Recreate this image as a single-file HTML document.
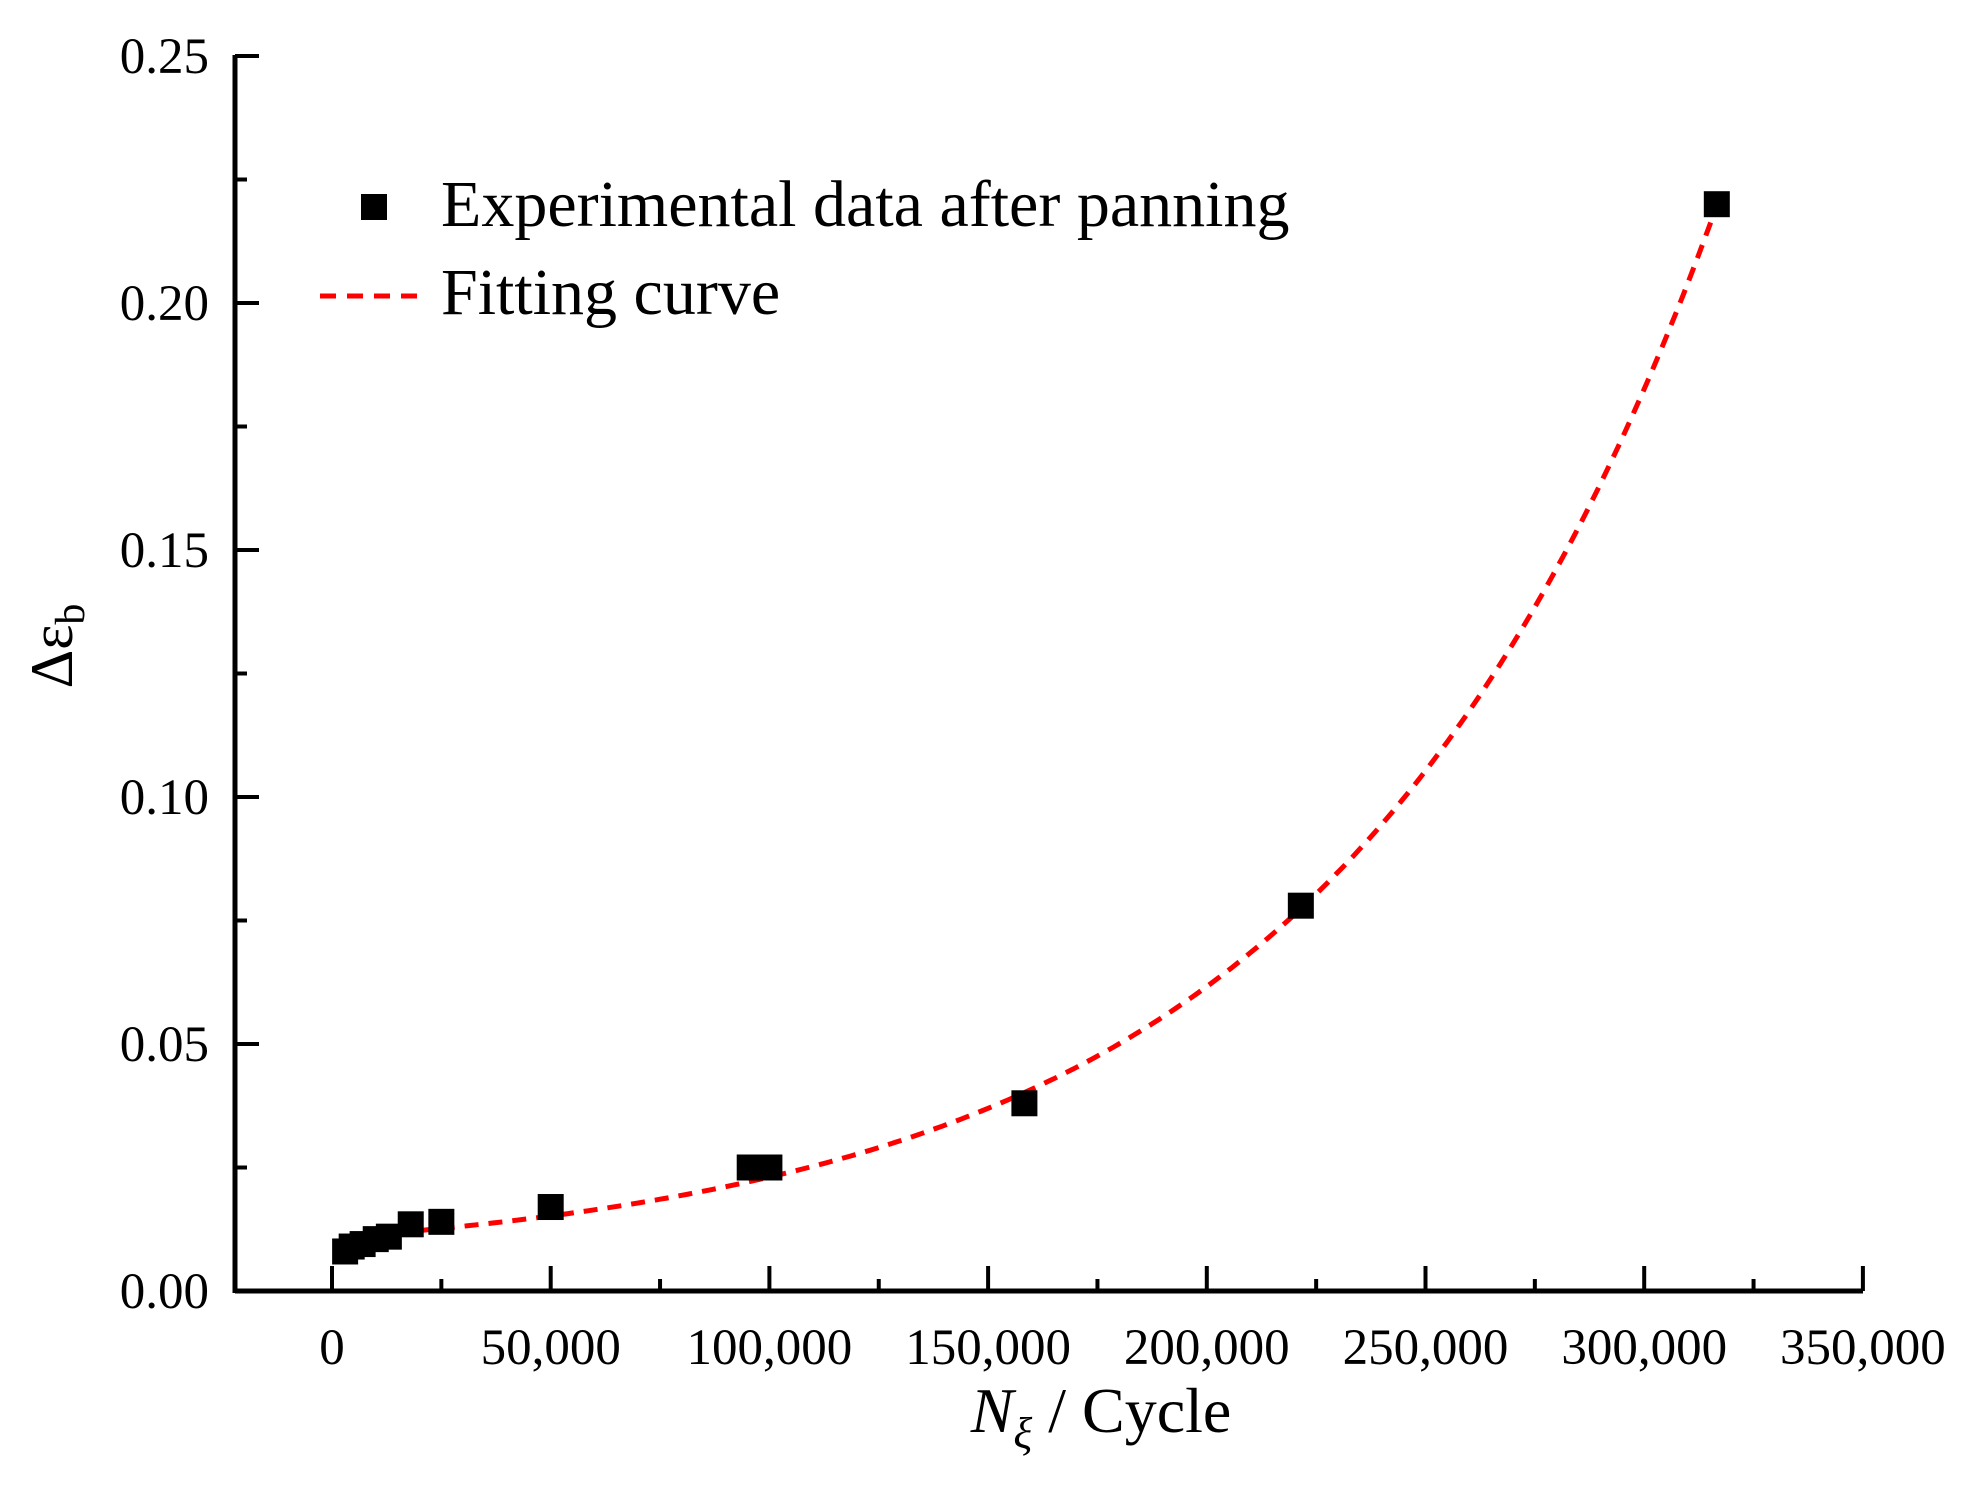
<!DOCTYPE html>
<html><head><meta charset="utf-8"><style>
body{margin:0;background:#fff}
svg{display:block}
text{font-family:"Liberation Serif",serif;fill:#000}
</style></head><body>
<svg id="chart" width="1975" height="1488" viewBox="0 0 1975 1488" xmlns="http://www.w3.org/2000/svg">
<g id="axes"></g>
<g id="curve"></g>
<g id="points"></g>
<g>
<rect x="361" y="194" width="26" height="26" fill="#000"/>
<text x="441" y="226" font-size="66">Experimental data after panning</text>
<line x1="320" y1="296" x2="418" y2="296" stroke="#f00" stroke-width="5" stroke-dasharray="16,11"/>
<text x="441" y="314" font-size="66">Fitting curve</text>
</g>
<text transform="translate(72,646) rotate(-90)" text-anchor="middle" font-size="60">Δε<tspan font-size="42" dy="12">b</tspan></text>
<text x="1101" y="1432" text-anchor="middle" font-size="64"><tspan font-style="italic">N</tspan><tspan font-style="italic" font-size="44" dy="16">ξ</tspan><tspan dy="-16"> / Cycle</tspan></text>
</svg>
<script>
const xTicks=[0,50000,100000,150000,200000,250000,300000,350000];
const xTickLabels=["0","50,000","100,000","150,000","200,000","250,000","300,000","350,000"];
const yTicks=[0,0.05,0.10,0.15,0.20,0.25];
const yTickLabels=["0.00","0.05","0.10","0.15","0.20","0.25"];
const pointsX=[3000,4500,7000,10000,13000,18000,25000,50000,95500,100000,158300,221500,316600];
const pointsY=[0.008,0.009,0.0095,0.0105,0.011,0.0135,0.014,0.017,0.025,0.025,0.038,0.078,0.22];
const fitParams=[0.005,0.00576,87500]; // y0, A, t  : y = y0 + A*exp(x/t)
const NS="http://www.w3.org/2000/svg";
const X0=332,XPER=218.7/50000,Y0=1291,YPER=247/0.05;
const XL=235,XR=1863,YT=55;
const sx=v=>X0+v*XPER, sy=v=>Y0-v*YPER;
function mk(tag,attrs,parent){const e=document.createElementNS(NS,tag);for(const k in attrs)e.setAttribute(k,attrs[k]);parent.appendChild(e);return e;}
const axes=document.getElementById('axes');
let l=mk('line',{x1:XL,y1:Y0,x2:XR,y2:Y0,stroke:'#000','stroke-width':5},axes);


l=mk('line',{x1:XL,y1:YT,x2:XL,y2:Y0+2,stroke:'#000','stroke-width':5},axes);


xTicks.forEach((v,i)=>{
  const t=mk('line',{x1:sx(v),y1:Y0,x2:sx(v),y2:Y0-25,stroke:'#000','stroke-width':4},axes);
  
  
  if(i<xTicks.length-1){const m=mk('line',{x1:sx(v+25000),y1:Y0,x2:sx(v+25000),y2:Y0-12,stroke:'#000','stroke-width':4},axes);
  
  }
  const tx=mk('text',{x:sx(v),y:1364,'text-anchor':'middle','font-size':51},axes);tx.textContent=xTickLabels[i];
  
  
});
yTicks.forEach((v,i)=>{
  const t=mk('line',{x1:XL,y1:sy(v),x2:XL+24,y2:sy(v),stroke:'#000','stroke-width':4},axes);
  
  
  if(i<yTicks.length-1){const m=mk('line',{x1:XL,y1:sy(v+0.025),x2:XL+12,y2:sy(v+0.025),stroke:'#000','stroke-width':4},axes);
  
  }
  const tx=mk('text',{x:209,y:sy(v)+17,'text-anchor':'end','font-size':51},axes);tx.textContent=yTickLabels[i];
  
  
});
const pts=document.getElementById('points');
pointsX.forEach((x,i)=>{
  const r=mk('rect',{x:sx(x)-13,y:sy(pointsY[i])-13,width:26,height:26,fill:'#000'},pts);
  
  
});
let d='';
for(let x=3000;x<=316600;x+=1500){const y=fitParams[0]+fitParams[1]*Math.exp(x/fitParams[2]);d+=(d?'L':'M')+sx(x).toFixed(1)+','+sy(y).toFixed(1);}
const p=mk('path',{d:d,fill:'none',stroke:'#f00','stroke-width':5,'stroke-dasharray':'14,10'},document.getElementById('curve'));


</script>
</body></html>
